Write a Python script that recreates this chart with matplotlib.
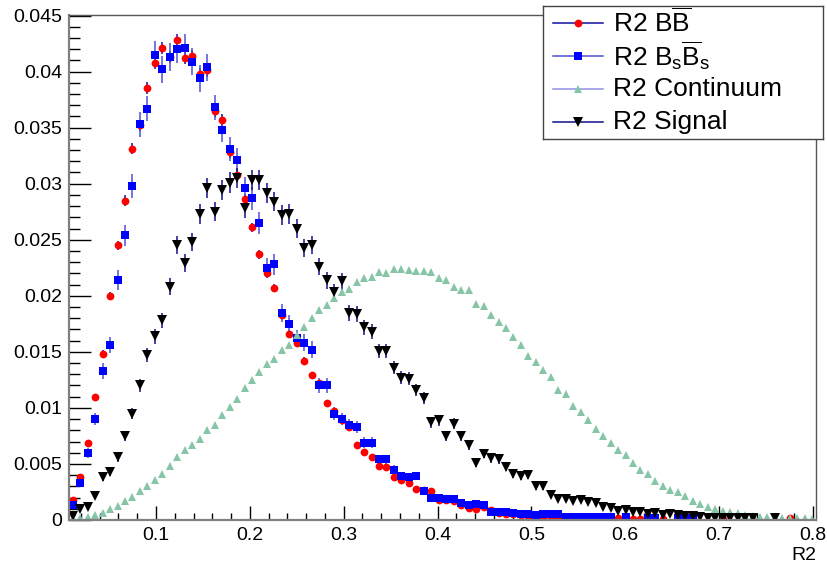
import numpy as np
import matplotlib
matplotlib.use("Agg")
import matplotlib.pyplot as plt
from matplotlib.ticker import MultipleLocator, FuncFormatter
from matplotlib.lines import Line2D

plt.rcParams["font.family"] = ["Liberation Sans", "DejaVu Sans"]
plt.rcParams["mathtext.fontset"] = "custom"
plt.rcParams["mathtext.rm"] = "Liberation Sans"
plt.rcParams["mathtext.it"] = "Liberation Sans:italic"

# ---- histogram binning (100 bins) ----
XMIN, XMAX, NBINS = 0.0073, 0.8032, 100

bb = [0.0018, 0.0038, 0.0069, 0.0110, 0.0148, 0.0200, 0.0245, 0.0285, 0.0331, 0.0352,
      0.0385, 0.0408, 0.0421, 0.0413, 0.0428, 0.0412, 0.0414, 0.0398, 0.0401, 0.0365,
      0.0357, 0.0328, 0.0308, 0.0286, 0.0261, 0.0237, 0.0220, 0.0207, 0.0183, 0.0166,
      0.0158, 0.0142, 0.0129, 0.0122, 0.0104, 0.0097, 0.0089, 0.0083, 0.0067, 0.0061,
      0.0056, 0.0048, 0.0047, 0.0038, 0.0036, 0.0033, 0.0028, 0.0027, 0.0026, 0.0018,
      0.0018, 0.0017, 0.0013, 0.0011, 0.0010, 0.0012, 0.0009, 0.0006, 0.0005, 0.0005,
      0.00044, 0.00035, 0.0003, 0.0001, 0.0002, 0.0002, 0.00015, 0.0001, 0.0001, 0.0001,
      0.0001, 0, 0, 0.00015, 0, 0.0001, 0.0001, 0, 0, 0.0001,
      0, 0.0001, 0.0001, 0.0001, 0, 0, 0, 0.0001, 0, 0,
      0, 0, 0, 0, 0, 0, 0.00015, 0, 0, 0]

bsbs = [0.0013, 0.0033, 0.0060, 0.0090, 0.0133, 0.0156, 0.0214, 0.0254, 0.0298, 0.0353,
        0.0367, 0.0415, 0.0402, 0.0413, 0.0420, 0.0421, 0.0409, 0.0394, 0.0404, 0.0368,
        0.0348, 0.0331, 0.0321, 0.0296, 0.0287, 0.0265, 0.0225, 0.0228, 0.0185, 0.0175,
        0.0162, 0.0158, 0.0152, 0.0120, 0.0120, 0.0095, 0.0090, 0.0085, 0.0083, 0.0069,
        0.0069, 0.0054, 0.0054, 0.0045, 0.0039, 0.0038, 0.0039, 0.0026, 0.0020, 0.0020,
        0.0019, 0.0019, 0.0015, 0.0013, 0.0014, 0.0013, 0.0007, 0.0007, 0.0007, 0.0006,
        0.0005, 0.0005, 0.00044, 0.0005, 0.0005, 0.0005, 0.00025, 0.00025, 0.00025, 0.00025,
        0.00025, 0.00025, 0.00025, 0, 0.00025, 0, 0, 0.0002, 0.0002, 0,
        0, 0.0002, 0.0002, 0.0002, 0, 0, 0, 0, 0, 0,
        0, 0, 0, 0, 0, 0, 0, 0, 0, 0]

continuum = [0.0001, 0.0002, 0.0003, 0.00044, 0.00065, 0.00098, 0.00124, 0.00169, 0.00207, 0.0026,
             0.0030, 0.00355, 0.0041, 0.0048, 0.0056, 0.0062, 0.0067, 0.0072, 0.0080, 0.0085,
             0.0094, 0.0101, 0.0108, 0.0118, 0.0125, 0.0132, 0.0139, 0.0144, 0.0152, 0.0156,
             0.0165, 0.0172, 0.0180, 0.0187, 0.0192, 0.0198, 0.0203, 0.0206, 0.0212, 0.0216,
             0.0217, 0.0221, 0.0220, 0.0224, 0.0224, 0.0223, 0.0222, 0.0222, 0.0221, 0.0216,
             0.0214, 0.0208, 0.0205, 0.0205, 0.0193, 0.0191, 0.0183, 0.0177, 0.0171, 0.0163,
             0.0156, 0.0146, 0.0141, 0.0134, 0.0128, 0.0116, 0.0112, 0.0102, 0.0096, 0.0089,
             0.0081, 0.0075, 0.0069, 0.0062, 0.0058, 0.0051, 0.0045, 0.0041, 0.0035, 0.0030,
             0.0027, 0.0025, 0.0021, 0.0017, 0.0014, 0.0012, 0.0010, 0.0008, 0.0007, 0.0006,
             0.00044, 0.0004, 0.0003, 0.0003, 0.0002, 0.0002, 0.00015, 0.00015, 0.00015, 0.0001]

signal = [0.0004, 0.00095, 0.0012, 0.0021, 0.0038, 0.0043, 0.0056, 0.0075, 0.0095, 0.0120,
          0.0147, 0.0164, 0.0178, 0.0208, 0.0245, 0.0229, 0.0248, 0.0273, 0.0296, 0.0275,
          0.0294, 0.0301, 0.0305, 0.0278, 0.0303, 0.0303, 0.0292, 0.0284, 0.0272, 0.0273,
          0.0260, 0.0243, 0.0245, 0.0226, 0.0214, 0.0203, 0.0213, 0.0185, 0.0184, 0.0172,
          0.0168, 0.0151, 0.0151, 0.0136, 0.0127, 0.0126, 0.0116, 0.0109, 0.0087, 0.0089,
          0.0075, 0.0086, 0.0075, 0.0067, 0.0051, 0.0059, 0.0055, 0.0054, 0.0047, 0.0041,
          0.0039, 0.0040, 0.0030, 0.0030, 0.0022, 0.0019, 0.0019, 0.0017, 0.0018, 0.0016,
          0.0015, 0.0012, 0.0011, 0.0008, 0.0009, 0.0007, 0.0007, 0.0005, 0.0006, 0.00044,
          0.0005, 0.00044, 0.00038, 0.00035, 0.0003, 0.0002, 0.00015, 0.00015, 0.00015, 0.00015,
          0.00015, 0.00015, 0, 0, 0.00015, 0, 0, 0, 0, 0]

# effective entries per histogram (sets the Poisson error bar size)
N_BB, N_BSBS, N_CONT, N_SIG = 137000, 28000, 2000000, 37000

labels = [r"R2 B$\overline{\rm B}$", r"R2 B$_{\rm s}\overline{\rm B}_{\rm s}$",
          "R2 Continuum", "R2 Signal"]

edges = np.linspace(XMIN, XMAX, NBINS + 1)
centers = 0.5 * (edges[:-1] + edges[1:])

series = [
    # values, entries, marker, ms, marker colour, error colour
    (bb, N_BB, "o", 5.6, "#ff0000", "#1010a0"),
    (bsbs, N_BSBS, "s", 5.6, "#0000ff", "#5050d8"),
    (continuum, N_CONT, "^", 5.6, "#86c5a5", "#9090e6"),
    (signal, N_SIG, "v", 7.0, "#000000", "#10108c"),
]

fig = plt.figure(figsize=(8.28, 5.68), dpi=100)
ax = fig.add_axes([69 / 828, 48 / 568, 747 / 828, 505 / 568])

for vals, n, mk, ms, mc, ec in series:
    y = np.array(vals, dtype=float)
    keep = y > 0
    err = np.sqrt(y / n)
    ax.errorbar(centers[keep], y[keep], yerr=err[keep], fmt=mk, ms=ms,
                mfc=mc, mec=mc, mew=0, ecolor=ec, elinewidth=1.1, capsize=0)

ax.set_xlim(XMIN, XMAX)
ax.set_ylim(0, 0.04505)
ax.xaxis.set_major_locator(MultipleLocator(0.1))
ax.xaxis.set_minor_locator(MultipleLocator(0.02))
ax.yaxis.set_major_locator(MultipleLocator(0.005))
ax.yaxis.set_minor_locator(MultipleLocator(0.001))
fmt = FuncFormatter(lambda v, _: f"{v:g}")
ax.xaxis.set_major_formatter(fmt)
ax.yaxis.set_major_formatter(fmt)
ax.tick_params(axis="both", which="both", direction="in", top=False, right=False,
               colors="black", labelsize=14, pad=5)
ax.tick_params(axis="y", which="major", length=15.5, width=1.0)
ax.tick_params(axis="y", which="minor", length=8, width=1.0)
ax.tick_params(axis="x", which="major", length=10, width=1.0)
ax.tick_params(axis="x", which="minor", length=5, width=1.0)
for side in ("left", "bottom"):
    ax.spines[side].set_color("#808080")
    ax.spines[side].set_linewidth(1.6)
for side in ("top", "right"):
    ax.spines[side].set_color("#555555")
    ax.spines[side].set_linewidth(1.0)

fig.text(816 / 828, 1 - 556 / 568, "R2", ha="right", va="center", fontsize=14)

# ---- legend box (ROOT style) ----
lax = fig.add_axes([543 / 828, 1 - 139 / 568, 280 / 828, 133 / 568])
lax.set_xlim(0, 280)
lax.set_ylim(133, 0)
lax.set_xticks([])
lax.set_yticks([])
for sp in lax.spines.values():
    sp.set_color("#444444")
    sp.set_linewidth(1.0)
rows = [16.7, 50, 83.3, 115.7]
for (vals, n, mk, ms, mc, ec), lab, ry in zip(series, labels, rows):
    lax.add_line(Line2D([10, 60], [ry, ry], color=ec, lw=1.1))
    lax.plot([35], [ry], marker=mk, ms=ms, mfc=mc, mec=mc, mew=0)
    lax.text(70, ry, lab, ha="left", va="center", fontsize=19)

fig.savefig("out.png", dpi=100)
